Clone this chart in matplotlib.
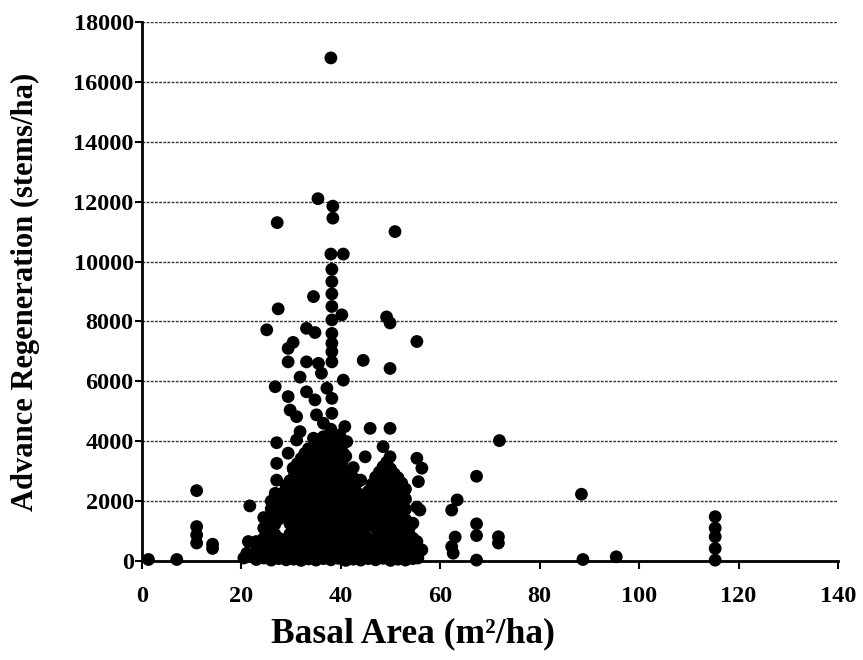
import numpy as np
import matplotlib
matplotlib.use("Agg")
import matplotlib.pyplot as plt

# dense core of the cloud: basal area (m2/ha) -> regeneration values (stems/ha)
core_columns = {
    23.0: [50, 350, 650],
    24.5: [100, 420, 760, 1100, 1450],
    26.0: [30, 380, 720, 1060, 1400, 1740, 2000],
    27.5: [80, 420, 760, 1400, 1750, 2100],
    29.0: [40, 380, 720, 1500, 1840, 2180, 2520],
    30.5: [60, 400, 740, 1080, 1420, 1760, 2100, 2440, 2780, 3050],
    32.0: [20, 360, 700, 1040, 1380, 1720, 2060, 2400, 2740, 3080, 3420],
    33.5: [70, 410, 750, 1090, 1430, 1770, 2110, 2450, 2790, 3130, 3470, 3750],
    35.0: [30, 370, 710, 1050, 1390, 1730, 2070, 2410, 2750, 3090, 3430, 3770],
    36.5: [80, 420, 760, 1100, 1440, 1780, 2120, 2460, 2800, 3140, 3480, 3820, 4150],
    38.0: [40, 380, 720, 1060, 1400, 1740, 2080, 2420, 2760, 3100, 3440, 3780, 4100, 4400],
    39.5: [90, 430, 770, 1110, 1450, 1790, 2130, 2470, 2810, 3150, 3490, 3830],
    41.0: [20, 360, 700, 1040, 1380, 1720, 2060, 2400, 2740, 3000, 3500],
    42.5: [60, 400, 740, 1080, 1420, 1760, 2100, 2440, 2780, 3120],
    44.0: [30, 370, 710, 1050, 1390, 1730, 2070, 2700],
    45.5: [80, 420, 760, 1300, 1640, 1980, 2320],
    47.0: [40, 380, 1100, 1440, 1780, 2120, 2460, 2800],
    48.5: [90, 430, 770, 1110, 1450, 1790, 2130, 2470, 2810, 3150],
    50.0: [20, 360, 700, 1040, 1380, 1720, 2060, 2400, 2740, 3080],
    51.5: [60, 400, 740, 1080, 1420, 1760, 2100, 2440, 2780],
    53.0: [30, 370, 710, 1050, 1390, 1730, 2070, 2400],
    54.5: [80, 420, 760, 1260],
}

# more stands packed between the columns above
core_fill = {
    25.25: [260, 600, 930, 1280],
    26.75: [210, 550, 890, 1230, 1570, 1900],
    28.25: [250, 590, 1600, 1920, 2260],
    29.75: [220, 560, 900, 1250, 1660, 2000, 2340, 2680],
    31.25: [230, 570, 910, 1250, 1590, 1930, 2270, 2610, 2950, 3250],
    32.75: [190, 530, 870, 1210, 1550, 1890, 2230, 2570, 2910, 3250, 3590],
    34.25: [240, 580, 920, 1260, 1600, 1940, 2280, 2620, 2960, 3300, 3640],
    35.75: [200, 540, 880, 1220, 1560, 1900, 2240, 2580, 2920, 3260, 3600, 3950],
    37.25: [250, 590, 930, 1270, 1610, 1950, 2290, 2630, 2970, 3310, 3650, 3990],
    38.75: [210, 550, 890, 1230, 1570, 1910, 2250, 2590, 2930, 3270, 3610, 3950],
    40.25: [260, 600, 940, 1280, 1620, 1960, 2300, 2640, 2980, 3320],
    41.75: [190, 530, 870, 1210, 1550, 1890, 2230, 2570, 2900],
    43.25: [240, 580, 920, 1260, 1600, 1940, 2280, 2620],
    44.75: [200, 540, 880, 1220, 1560, 1900],
    46.25: [250, 590, 1200, 1540, 1880, 2220, 2560],
    47.75: [210, 550, 900, 1270, 1610, 1950, 2290, 2630, 2970],
    49.25: [260, 600, 940, 1280, 1620, 1960, 2300, 2640, 2980, 3300],
    50.75: [190, 530, 870, 1210, 1550, 1890, 2230, 2570, 2910],
    52.25: [240, 580, 920, 1260, 1600, 1940, 2280, 2600],
    53.75: [200, 540, 880, 1100],
}

# scattered stands at low basal area
low_ba = [(1.3, 50), (7.0, 50), (11.0, 2350), (11.0, 1150), (11.0, 870), (11.0, 600),
          (14.2, 560), (14.2, 420), (21.7, 1840), (21.4, 650), (21.1, 260), (20.5, 100)]

# points around the edge of the cloud and the tall column near 38 m2/ha
mid_ba = [(26.8, 2260), (27.1, 2700), (27.1, 3260), (30.4, 3100), (29.4, 3600), (27.1, 3950),
          (31.1, 4040), (34.5, 4100), (37.8, 3930), (41.2, 3985), (40.5, 3600), (44.9, 3480),
          (31.8, 4320), (39.8, 4210), (36.5, 4600), (40.8, 4490), (45.9, 4430), (49.9, 4430),
          (29.8, 5040), (31.1, 4820), (35.1, 4880), (38.2, 4930), (34.8, 5380), (38.2, 5430),
          (29.4, 5490), (33.1, 5650), (37.2, 5770), (26.8, 5820), (31.8, 6140), (36.1, 6270),
          (40.5, 6040), (29.4, 6650), (33.1, 6650), (35.5, 6600), (38.2, 6650), (44.5, 6700),
          (49.9, 6430), (38.2, 6990), (38.2, 7270), (29.4, 7100), (30.4, 7300), (55.3, 7330),
          (25.1, 7720), (33.1, 7770), (34.8, 7630), (38.2, 7600), (49.9, 7950), (49.2, 8150),
          (38.2, 8050), (40.2, 8220), (27.4, 8420), (38.2, 8500), (34.5, 8830), (38.2, 8920),
          (38.2, 9330), (38.2, 9740), (38.0, 10250), (40.5, 10250), (27.2, 11300), (50.9, 11000),
          (38.4, 11450), (38.4, 11850), (35.4, 12100), (38.0, 16800)]

# stands above ~55 m2/ha
high_ba = [(55.3, 3430), (56.3, 3100), (55.6, 2650), (55.3, 1800), (55.9, 1700), (54.3, 1260),
           (55.3, 650), (56.3, 370), (55.5, 100), (49.9, 3480), (48.5, 3820),
           (71.9, 4020), (67.3, 2830), (63.4, 2040), (62.3, 1700), (63.0, 800), (62.3, 480),
           (62.6, 260), (67.3, 1240), (67.3, 850), (67.3, 30), (71.7, 810), (71.7, 600),
           (88.4, 2230), (88.7, 50), (95.4, 140),
           (115.3, 1480), (115.3, 1100), (115.3, 810), (115.3, 420), (115.3, 30)]

x_ticks = [0, 20, 40, 60, 80, 100, 120, 140]
y_ticks = [0, 2000, 4000, 6000, 8000, 10000, 12000, 14000, 16000, 18000]


def collect_points():
    xs, ys = [], []
    for cols in (core_columns, core_fill):
        for ba, vals in cols.items():
            for v in vals:
                xs.append(ba)
                ys.append(v)
    for group in (low_ba, mid_ba, high_ba):
        for ba, v in group:
            xs.append(ba)
            ys.append(v)
    return np.array(xs), np.array(ys)


def main():
    plt.rcParams['font.family'] = ['Liberation Serif', 'DejaVu Serif']
    plt.rcParams['font.weight'] = 'bold'

    fig = plt.figure(figsize=(8.63, 6.6), dpi=100)
    ax = fig.add_axes([0.1645, 0.15, 0.8065, 0.8167])

    xs, ys = collect_points()
    ax.scatter(xs, ys, s=85, color='black', edgecolors='none', zorder=3, clip_on=False)

    ax.set_xlim(0, 140)
    ax.set_ylim(0, 18000)
    ax.set_xticks(x_ticks)
    ax.set_yticks(y_ticks)

    ax.yaxis.grid(True, color='0.2', linewidth=1.0, linestyle=(0, (2, 1)))
    ax.set_axisbelow(True)

    for side in ('top', 'right'):
        ax.spines[side].set_visible(False)
    for side in ('left', 'bottom'):
        ax.spines[side].set_linewidth(2)
        ax.spines[side].set_color('black')

    ax.tick_params(axis='x', direction='out', length=6, width=1.5, pad=12, labelsize=17.5)
    ax.tick_params(axis='y', direction='out', length=5, width=1.5, pad=1, labelsize=17.5)

    ax.set_xlabel('Basal Area (m²/ha)', fontsize=25.5, fontweight='bold', labelpad=8)
    ax.xaxis.set_label_coords(0.39, -0.105)
    ax.set_ylabel('Advance Regeneration (stems/ha)', fontsize=22, fontweight='bold', labelpad=24)

    fig.savefig('out.png', dpi=100)


if __name__ == '__main__':
    main()
